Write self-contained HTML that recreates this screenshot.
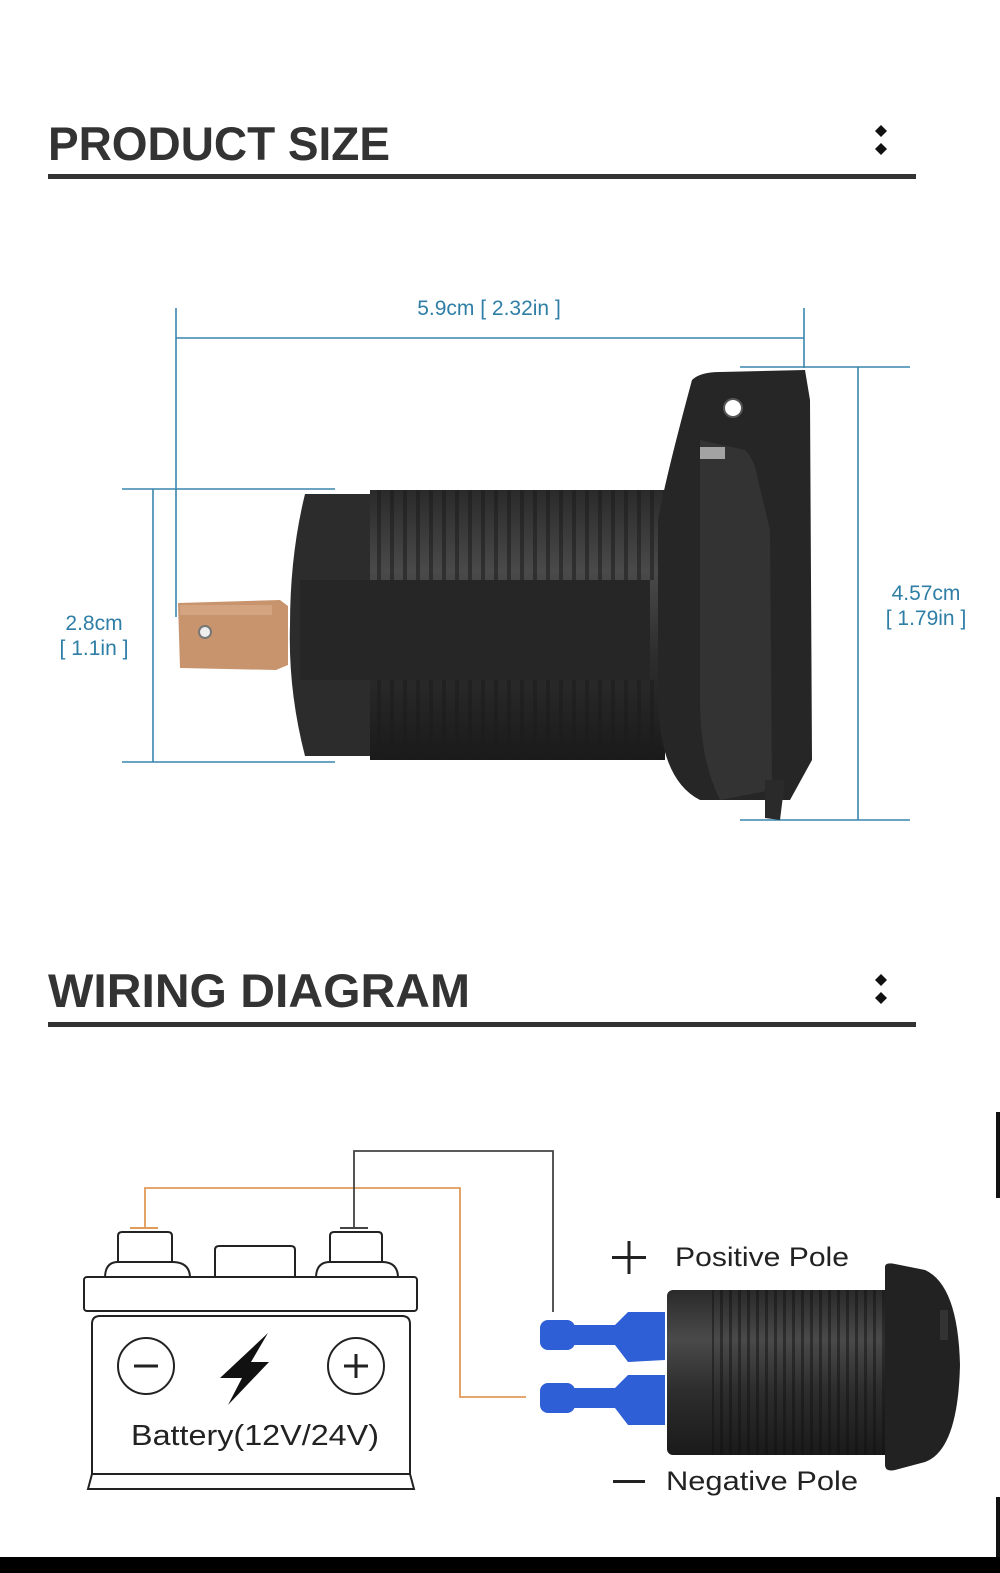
<!DOCTYPE html>
<html><head><meta charset="utf-8"><style>
html,body{margin:0;padding:0;background:#fff;}
svg{display:block}
text{font-family:"Liberation Sans",sans-serif}
</style></head><body>
<svg width="1000" height="1573" viewBox="0 0 1000 1573" xmlns="http://www.w3.org/2000/svg">
<defs>
<linearGradient id="cyl" x1="0" y1="0" x2="0" y2="1">
<stop offset="0" stop-color="#2a2a2a"/><stop offset="0.3" stop-color="#4a4a4a"/><stop offset="0.6" stop-color="#2e2e2e"/><stop offset="1" stop-color="#1a1a1a"/>
</linearGradient>
<pattern id="thr" width="13" height="10" patternUnits="userSpaceOnUse">
<rect x="0" width="4" height="10" fill="#1c1c1c" opacity="0.55"/>
</pattern>
<pattern id="thr2" width="9" height="10" patternUnits="userSpaceOnUse">
<rect x="0" width="3" height="10" fill="#111" opacity="0.5"/>
</pattern>
</defs>
<rect width="1000" height="1573" fill="#fff"/>
<text x="48" y="160" font-size="47" font-weight="bold" fill="#333" textLength="342" lengthAdjust="spacingAndGlyphs">PRODUCT SIZE</text>
<rect x="48" y="174" width="868" height="5" fill="#333"/>
<path d="M875 131 l6 -6 l6 6 l-6 6z" fill="#111"/><path d="M875 149 l6 -6 l6 6 l-6 6z" fill="#111"/>
<text x="48" y="1007" font-size="47" font-weight="bold" fill="#333" textLength="422" lengthAdjust="spacingAndGlyphs">WIRING DIAGRAM</text>
<rect x="48" y="1022" width="868" height="5" fill="#333"/>
<path d="M875 980 l6 -6 l6 6 l-6 6z" fill="#111"/><path d="M875 998 l6 -6 l6 6 l-6 6z" fill="#111"/>

<g stroke="#3a86ad" stroke-width="1.6" fill="none">
<line x1="176" y1="308" x2="176" y2="617"/>
<line x1="804" y1="308" x2="804" y2="368"/>
<line x1="176" y1="338" x2="804" y2="338"/>
<line x1="122" y1="489" x2="335" y2="489"/>
<line x1="122" y1="762" x2="335" y2="762"/>
<line x1="153" y1="489" x2="153" y2="762"/>
<line x1="740" y1="367" x2="910" y2="367"/>
<line x1="740" y1="820" x2="910" y2="820"/>
<line x1="858" y1="367" x2="858" y2="820"/>
</g>
<text x="489" y="315" font-size="21" fill="#2f7ea6" text-anchor="middle">5.9cm [ 2.32in ]</text>
<text x="94" y="630" font-size="21" fill="#2f7ea6" text-anchor="middle">2.8cm</text>
<text x="94" y="655" font-size="21" fill="#2f7ea6" text-anchor="middle">[ 1.1in ]</text>
<text x="926" y="600" font-size="21" fill="#2f7ea6" text-anchor="middle">4.57cm</text>
<text x="926" y="625" font-size="21" fill="#2f7ea6" text-anchor="middle">[ 1.79in ]</text>

<path d="M178 603 L280 600 L288 606 L288 665 L276 670 L180 668 Z" fill="#c8946e"/>
<rect x="180" y="605" width="92" height="10" fill="#dcae8a" opacity="0.6"/>
<circle cx="205" cy="632" r="6" fill="#eee" stroke="#777" stroke-width="2"/>
<path d="M305 494 L380 494 L380 756 L305 756 Q288 690 290 625 Q290 555 305 494 Z" fill="#2c2c2c"/>
<rect x="370" y="490" width="295" height="270" fill="url(#cyl)"/>
<rect x="370" y="490" width="295" height="90" fill="url(#thr)"/>
<rect x="370" y="680" width="295" height="80" fill="url(#thr)"/>
<rect x="300" y="580" width="350" height="100" fill="#262626"/>
<path d="M692 380 Q700 372 720 372 L805 370 L810 400 L812 760 L790 800 L700 800 Q660 780 658 700 L658 520 Q665 480 692 380 Z" fill="#262626"/>
<path d="M700 440 L745 450 Q755 460 758 480 L770 530 L772 790 L720 800 Q700 760 700 700 Z" fill="#333"/>
<path d="M765 780 L785 780 L780 820 L765 818 Z" fill="#2a2a2a"/>
<circle cx="733" cy="408" r="9" fill="#fff" stroke="#555" stroke-width="2"/>
<rect x="700" y="447" width="25" height="12" fill="#eee" opacity="0.6"/>

<g fill="none" stroke-width="1.8">
<path d="M145 1228 L145 1188 L460 1188 L460 1397 L526 1397" stroke="#e09a5a"/>
<path d="M354 1228 L354 1151 L553 1151 L553 1312" stroke="#444"/>
</g>
<line x1="130" y1="1228" x2="158" y2="1228" stroke="#e09a5a" stroke-width="2"/>
<line x1="340" y1="1228" x2="368" y2="1228" stroke="#444" stroke-width="2"/>
<g fill="#fff" stroke="#222" stroke-width="2">
<path d="M118 1265 L118 1236 Q118 1232 122 1232 L168 1232 Q172 1232 172 1236 L172 1265"/>
<path d="M105 1278 Q105 1262 118 1262 L172 1262 Q190 1262 190 1278"/>
<path d="M330 1265 L330 1236 Q330 1232 334 1232 L378 1232 Q382 1232 382 1236 L382 1265"/>
<path d="M316 1278 Q316 1262 330 1262 L382 1262 Q398 1262 398 1278"/>
<path d="M215 1278 L215 1250 Q215 1246 219 1246 L291 1246 Q295 1246 295 1250 L295 1278"/>
<rect x="84" y="1277" width="333" height="34" rx="3"/>
<path d="M92 1474 L92 1324 Q92 1316 100 1316 L402 1316 Q410 1316 410 1324 L410 1474"/>
<path d="M88 1489 L92 1474 L410 1474 L414 1489 Z"/>
<ellipse cx="146" cy="1366" rx="28" ry="28"/>
<ellipse cx="356" cy="1366" rx="28" ry="28"/>
</g>
<line x1="134" y1="1366" x2="158" y2="1366" stroke="#222" stroke-width="3"/>
<line x1="344" y1="1366" x2="368" y2="1366" stroke="#222" stroke-width="3"/>
<line x1="356" y1="1354" x2="356" y2="1378" stroke="#222" stroke-width="3"/>
<path d="M268 1333 L220 1378 L242 1378 L228 1405 L269 1362 L251 1362 Z" fill="#111"/>
<text x="255" y="1445" font-size="29" fill="#222" text-anchor="middle" textLength="248" lengthAdjust="spacingAndGlyphs">Battery(12V/24V)</text>

<g fill="#2f5fd6">
<rect x="540" y="1320" width="35" height="30" rx="8"/>
<path d="M570 1325 L615 1325 L628 1312 L665 1312 L665 1360 L628 1362 L615 1345 L570 1345Z"/>
<rect x="540" y="1383" width="35" height="30" rx="8"/>
<path d="M570 1388 L615 1388 L628 1375 L665 1375 L665 1425 L628 1425 L615 1408 L570 1408Z"/>
</g>
<rect x="667" y="1290" width="225" height="165" rx="6" fill="url(#cyl)"/>
<rect x="712" y="1290" width="178" height="165" fill="url(#thr2)"/>
<path d="M885 1267 Q885 1262 895 1264 L925 1270 Q958 1285 960 1365 Q958 1450 925 1462 L895 1470 Q885 1472 885 1465 Z" fill="#222"/>
<rect x="940" y="1310" width="8" height="30" fill="#333"/>
<rect x="612" y="1256" width="34" height="3" fill="#222"/>
<rect x="627.5" y="1241" width="3" height="33" fill="#222"/>
<text x="675" y="1266" font-size="27" fill="#222" textLength="174" lengthAdjust="spacingAndGlyphs">Positive Pole</text>
<rect x="613" y="1480" width="32" height="3" fill="#222"/>
<text x="666" y="1490" font-size="27" fill="#222" textLength="192" lengthAdjust="spacingAndGlyphs">Negative Pole</text>

<rect x="996" y="1112" width="4" height="86" fill="#111"/>
<rect x="996" y="1497" width="4" height="60" fill="#111"/>
<rect x="0" y="1557" width="1000" height="16" fill="#000"/>
</svg>
</body></html>
